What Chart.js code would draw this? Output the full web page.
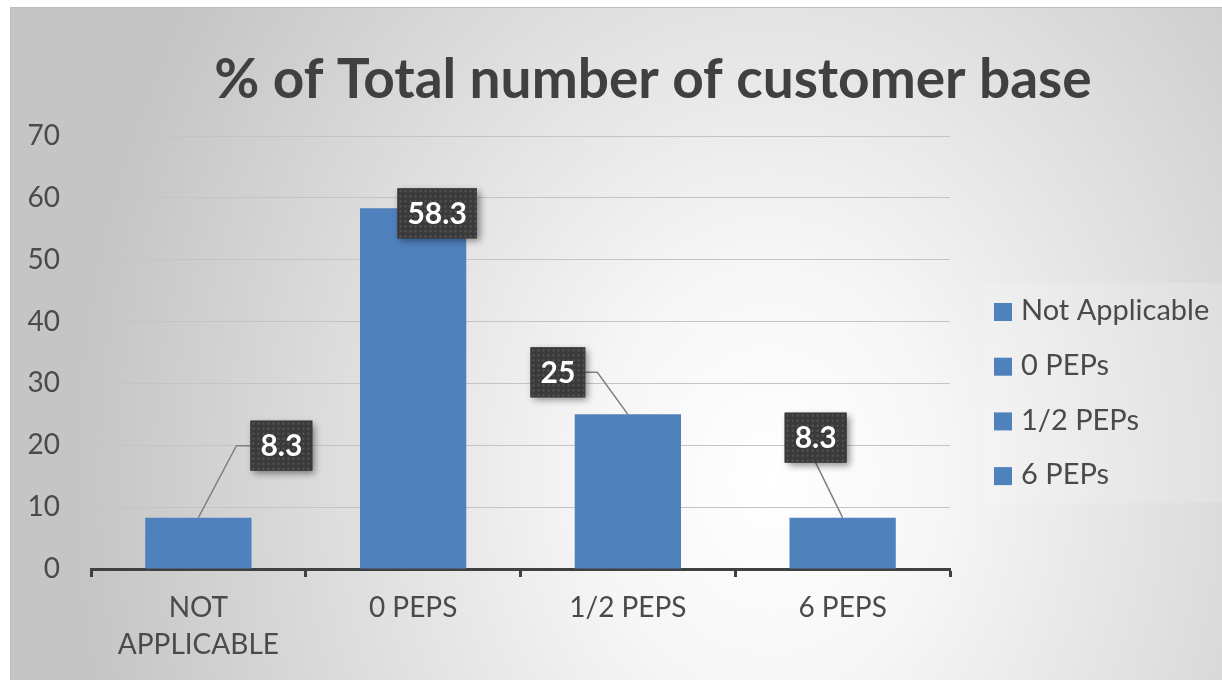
<!DOCTYPE html>
<html><head><meta charset="utf-8">
<script src="https://cdn.jsdelivr.net/npm/chart.js@4.4.1/dist/chart.umd.min.js"></script>
<style>html,body{margin:0;padding:0;background:#fff;}#wrap{width:1222px;height:680px;}</style>
</head><body><div id="wrap"><canvas id="c" width="1222" height="680"></canvas></div>
<script>
const titleText = '% of Total number of customer base';
const categories = ['Not Applicable', '0 PEPs', '1/2 PEPs', '6 PEPs'];
const values = [8.3, 58.3, 25, 8.3];
const yTicks = [0, 10, 20, 30, 40, 50, 60, 70];
const valueLabels = ['8.3', '58.3', '25', '8.3'];

// label box placement relative to bar top (style only)
const labelOffsets = [[83, -72], [24, 5], [-70, -42], [-27, -80]];
const leaderTypes = ['left', 'none', 'right', 'bottom'];

const FONT = 'Lato, "Open Sans", sans-serif';
const TEXT = '#4a4a4a';
const BAR = '#4f81bd';

const bgPlugin = {
  id: 'bg',
  beforeDraw(chart) {
    const ctx = chart.ctx;
    ctx.save();
    ctx.fillStyle = '#ffffff';
    ctx.fillRect(0, 0, chart.width, chart.height);
    ctx.translate(770, 480);
    ctx.scale(1, 1.25);
    const g = ctx.createRadialGradient(0, 0, 0, 0, 0, 690);
    g.addColorStop(0, '#ffffff');
    g.addColorStop(0.25, '#f6f6f6');
    g.addColorStop(1, '#c5c5c5');
    ctx.fillStyle = g;
    ctx.fillRect(10 - 770, (7 - 480) / 1.25, 1300, 700 / 1.25);
    ctx.restore();
    ctx.save();
    ctx.strokeStyle = '#bdbdbd';
    ctx.lineWidth = 1;
    ctx.beginPath();
    ctx.moveTo(10.5, 680); ctx.lineTo(10.5, 7.5); ctx.lineTo(1222, 7.5);
    ctx.stroke();
    ctx.restore();
  }
};

const titlePlugin = {
  id: 'customTitle',
  afterDraw(chart) {
    const ctx = chart.ctx;
    ctx.save();
    ctx.font = 'bold 55px ' + FONT;
    ctx.fillStyle = '#404040';
    ctx.textAlign = 'center';
    ctx.textBaseline = 'middle';
    ctx.fillText(titleText, 653, 80);
    ctx.restore();
  }
};

const legendPlugin = {
  id: 'customLegend',
  afterDraw(chart) {
    const ctx = chart.ctx;
    ctx.save();
    ctx.fillStyle = 'rgba(255,255,255,0.15)';
    ctx.fillRect(986, 283, 236, 220);
    ctx.font = '29px ' + FONT;
    ctx.textBaseline = 'middle';
    ctx.textAlign = 'left';
    categories.forEach((c, i) => {
      const y = 311 + i * 54.7;
      ctx.fillStyle = BAR;
      ctx.fillRect(994, y - 8, 18, 18);
      ctx.fillStyle = TEXT;
      ctx.fillText(c, 1021, y);
    });
    ctx.restore();
  }
};

let dotPattern = null;
function getPattern(ctx) {
  if (dotPattern) return dotPattern;
  const pc = document.createElement('canvas');
  pc.width = 5; pc.height = 5;
  const p = pc.getContext('2d');
  p.fillStyle = '#3a3a3a';
  p.fillRect(0, 0, 5, 5);
  p.fillStyle = '#575757';
  p.fillRect(2, 2, 2, 2);
  dotPattern = ctx.createPattern(pc, 'repeat');
  return dotPattern;
}

const labelPlugin = {
  id: 'valueLabels',
  afterDatasetsDraw(chart) {
    const ctx = chart.ctx;
    const meta = chart.getDatasetMeta(0);
    ctx.save();
    ctx.font = 'bold 30px ' + FONT;
    meta.data.forEach((el, i) => {
      const txt = valueLabels[i];
      const tw = ctx.measureText(txt).width;
      const w = tw + 20, h = 50;
      const cx = el.x + labelOffsets[i][0];
      const cy = el.y + labelOffsets[i][1];
      const l = cx - w / 2, t = cy - h / 2;
      ctx.strokeStyle = '#808080';
      ctx.lineWidth = 1.5;
      ctx.beginPath();
      if (leaderTypes[i] === 'left') {
        ctx.moveTo(el.x, el.y); ctx.lineTo(l - 14, cy); ctx.lineTo(l, cy);
      } else if (leaderTypes[i] === 'right') {
        ctx.moveTo(el.x, el.y); ctx.lineTo(l + w + 12, cy); ctx.lineTo(l + w, cy);
      } else if (leaderTypes[i] === 'bottom') {
        ctx.moveTo(el.x, el.y); ctx.lineTo(cx, t + h);
      }
      ctx.stroke();
      ctx.save();
      ctx.shadowColor = 'rgba(0,0,0,0.45)';
      ctx.shadowBlur = 7;
      ctx.shadowOffsetX = 3;
      ctx.shadowOffsetY = 3;
      ctx.fillStyle = '#3a3a3a';
      ctx.fillRect(l, t, w, h);
      ctx.restore();
      ctx.save();
      ctx.translate(l, t);
      ctx.fillStyle = getPattern(ctx);
      ctx.fillRect(0, 0, w, h);
      ctx.restore();
      ctx.fillStyle = '#ffffff';
      ctx.textAlign = 'center';
      ctx.textBaseline = 'middle';
      ctx.fillText(txt, cx, cy + 1);
    });
    ctx.restore();
  }
};

new Chart(document.getElementById('c'), {
  type: 'bar',
  data: {
    labels: categories,
    datasets: [{
      data: values,
      backgroundColor: BAR,
      borderWidth: 0,
      barPercentage: 0.495,
      categoryPercentage: 1
    }]
  },
  options: {
    responsive: false,
    animation: false,
    devicePixelRatio: 1,
    layout: { padding: { top: 136, right: 272, bottom: 0, left: 0 } },
    plugins: { legend: { display: false }, title: { display: false }, tooltip: { enabled: false } },
    scales: {
      x: {
        grid: { display: true, drawOnChartArea: false, drawTicks: true, tickLength: 8, tickWidth: 3, tickColor: '#404040', offset: true },
        border: { display: true, color: '#404040', width: 3 },
        ticks: {
          color: TEXT,
          font: { family: FONT, size: 28, lineHeight: 1.33 },
          padding: 12,
          maxRotation: 0,
          autoSkip: false,
          callback: function (v, i) {
            const s = categories[i].toUpperCase();
            return s.length > 10 ? s.split(' ') : s;
          }
        },
        afterFit(scale) { scale.height = 111; }
      },
      y: {
        min: 0, max: 70,
        afterBuildTicks(scale) { scale.ticks = yTicks.map(v => ({ value: v })); },
        grid: { color: '#c4c4c4', lineWidth: 1, drawTicks: false },
        border: { display: false },
        ticks: { color: TEXT, font: { family: FONT, size: 28 }, padding: 31 },
        afterFit(scale) { scale.width = 91; }
      }
    }
  },
  plugins: [bgPlugin, titlePlugin, legendPlugin, labelPlugin]
});
</script>
</body></html>
